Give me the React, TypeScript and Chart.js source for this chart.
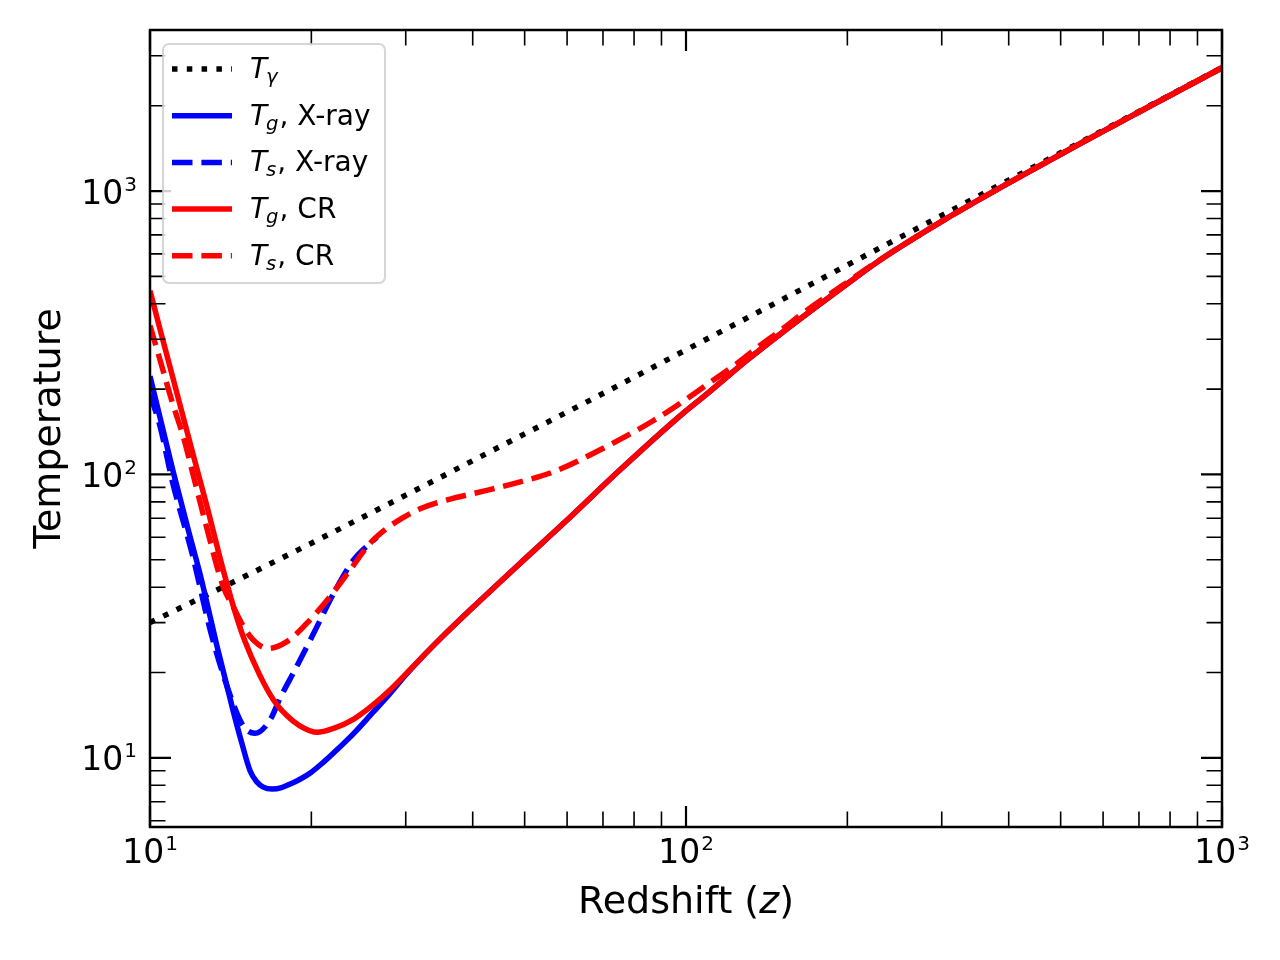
import { useEffect, useRef } from 'react';
import Chart from 'chart.js/auto';

// redshift (z) / temperature pairs, one pair of arrays per curve
const zGamma = [10, 15, 20, 30, 50, 70, 100, 150, 200, 300, 500, 700, 1000];
const tGamma = [30.0, 43.6, 57.2, 84.5, 139, 193, 275, 411, 548, 820, 1365, 1910, 2728];

const zGasX = [10, 10.5, 11.05, 11.9, 12.4, 12.85, 13.3, 14.3, 14.83, 15.37, 15.8, 16.27, 16.9, 17.6, 18.3, 19.05, 20, 21, 22, 24, 26, 28, 30, 32, 35, 40, 49, 60, 75, 97.5, 110, 130, 150, 173, 200, 230, 306, 408, 543, 700, 1000];
const tGasX = [222, 152, 102, 59.5, 44.5, 33.5, 25.3, 14.6, 11.3, 9.0, 8.25, 7.88, 7.76, 7.85, 8.1, 8.4, 8.9, 9.6, 10.4, 12.2, 14.4, 16.8, 19.6, 22.4, 26.6, 33.9, 48.5, 69, 103, 161, 194, 253, 313, 384, 471, 570, 799, 1090, 1468, 1900, 2722];

const zSpinX = [10, 10.45, 11, 12, 13, 14.3, 14.95, 15.7, 16.75, 17.5, 18.5, 20.2, 22, 24, 25.7, 26.5];
const tSpinX = [192, 147, 95, 52, 27.5, 15.5, 12.9, 12.2, 13.6, 16.3, 19.9, 27.5, 38.0, 50, 57.0, 60];

const zGasCR = [10, 10.5, 11, 12, 12.8, 13.5, 14, 14.5, 15, 16, 17, 18, 19, 20.5, 22, 24, 26, 28, 32, 35, 40, 49, 60, 75, 97.5, 110, 130, 150, 173, 200, 230, 306, 408, 543, 700, 1000];
const tGasCR = [445, 312, 224, 120, 76, 51, 39.5, 31.5, 26.1, 19.7, 16.0, 14.1, 13.0, 12.3, 12.7, 13.7, 15.3, 17.3, 22.4, 26.6, 33.9, 48.5, 69, 103, 161, 194, 253, 313, 384, 471, 570, 799, 1090, 1468, 1900, 2722];

const zSpinCR = [10, 10.45, 11, 11.55, 12, 12.75, 13.7, 14.3, 14.95, 15.6, 16.6, 18, 19.6, 21.4, 23.6, 25.7, 27.5, 29.5, 32, 36, 42.5, 50, 56.5, 70, 87, 100, 112, 124, 137, 152, 165, 183, 200, 230, 306, 408, 543, 700, 1000];
const tSpinCR = [335, 252, 180, 135, 102, 65.2, 40.1, 34.1, 29.0, 26.0, 24.3, 25.7, 29.8, 36.0, 45.9, 57.0, 64, 70, 75.8, 81.5, 87.8, 95, 102, 123.5, 155, 184, 214, 245, 284, 328, 370, 425, 477, 572, 799, 1090, 1468, 1900, 2722];

const xMajor = [10, 100, 1000];
const yMajor = [10, 100, 1000];
const legendSubs = ['\u03b3', 'g', 's', 'g', 's'];
const legendRest = ['', ', X-ray', ', X-ray', ', CR', ', CR'];

const FONT = '"DejaVu Sans", sans-serif';
const DOTS = [5.5, 9.3];
const DASH = [20.5, 8.9];

const pts = (zs: number[], ts: number[]) => zs.map((z, i) => ({ x: z, y: ts[i] }));

const minorsBetween = (lo: number, hi: number) => {
  const out: number[] = [];
  for (let d = 1; d <= 1000; d *= 10) {
    for (let m = 2; m <= 9; m++) {
      const v = m * d;
      if (v > lo && v < hi) out.push(v);
    }
  }
  return out;
};

// "10" with a raised exponent, like matplotlib mathtext
function powerLabel(ctx: CanvasRenderingContext2D, exp: string, x: number, baseline: number, align: 'center' | 'right') {
  ctx.font = `33px ${FONT}`;
  const w1 = ctx.measureText('10').width;
  ctx.font = `20px ${FONT}`;
  const w2 = ctx.measureText(exp).width;
  const total = w1 + w2 + 1;
  const x0 = align === 'center' ? x - total / 2 : x - total;
  ctx.textAlign = 'left';
  ctx.font = `33px ${FONT}`;
  ctx.fillText('10', x0, baseline);
  ctx.font = `20px ${FONT}`;
  ctx.fillText(exp, x0 + w1 + 1, baseline - 13);
}

const framePlugin = {
  id: 'mplFrame',
  afterDatasetsDraw(chart: any) {
    const { ctx, chartArea: a, scales } = chart;
    const xs = scales.x;
    const ys = scales.y;
    ctx.save();
    ctx.strokeStyle = '#000';
    ctx.fillStyle = '#000';
    ctx.setLineDash([]);
    ctx.lineCap = 'butt';

    // inward ticks on all four sides
    const xTicks = (vals: number[], len: number, width: number) =>
      vals.forEach((v) => {
        const px = xs.getPixelForValue(v);
        ctx.lineWidth = width;
        ctx.beginPath();
        ctx.moveTo(px, a.bottom);
        ctx.lineTo(px, a.bottom - len);
        ctx.moveTo(px, a.top);
        ctx.lineTo(px, a.top + len);
        ctx.stroke();
      });
    const yTicks = (vals: number[], len: number, width: number) =>
      vals.forEach((v) => {
        const py = ys.getPixelForValue(v);
        ctx.lineWidth = width;
        ctx.beginPath();
        ctx.moveTo(a.left, py);
        ctx.lineTo(a.left + len, py);
        ctx.moveTo(a.right, py);
        ctx.lineTo(a.right - len, py);
        ctx.stroke();
      });

    xTicks(minorsBetween(xs.min, xs.max), 15.5, 1.6);
    xTicks(xMajor, 21, 2.2);
    yTicks(minorsBetween(ys.min, ys.max), 15.5, 1.6);
    yTicks(yMajor, 21, 2.2);

    ctx.lineWidth = 2.5;
    ctx.strokeRect(a.left, a.top, a.right - a.left, a.bottom - a.top);

    // tick labels
    xMajor.forEach((v) => {
      powerLabel(ctx, String(Math.round(Math.log10(v))), xs.getPixelForValue(v), a.bottom + 36, 'center');
    });
    yMajor.forEach((v) => {
      powerLabel(ctx, String(Math.round(Math.log10(v))), a.left - 13, ys.getPixelForValue(v) + 12.5, 'right');
    });

    // axis titles
    ctx.textAlign = 'left';
    ctx.font = `38px ${FONT}`;
    const p1 = 'Redshift (';
    const w1 = ctx.measureText(p1).width;
    const w3 = ctx.measureText(')').width;
    ctx.font = `italic 38px ${FONT}`;
    const w2 = ctx.measureText('z').width;
    let tx = (a.left + a.right) / 2 - (w1 + w2 + w3) / 2;
    const tb = a.bottom + 86;
    ctx.font = `38px ${FONT}`;
    ctx.fillText(p1, tx, tb);
    tx += w1;
    ctx.font = `italic 38px ${FONT}`;
    ctx.fillText('z', tx, tb);
    tx += w2;
    ctx.font = `38px ${FONT}`;
    ctx.fillText(')', tx, tb);

    ctx.save();
    ctx.translate(60, (a.top + a.bottom) / 2);
    ctx.rotate(-Math.PI / 2);
    ctx.textAlign = 'center';
    ctx.fillText('Temperature', 0, 0);
    ctx.restore();

    ctx.restore();
  },
};

const legendPlugin = {
  id: 'mplLegend',
  afterDatasetsDraw(chart: any) {
    const { ctx } = chart;
    const bx = 163, by = 44, bw = 222, bh = 239, r = 6;
    ctx.save();
    ctx.beginPath();
    ctx.roundRect(bx, by, bw, bh, r);
    ctx.fillStyle = 'rgba(255,255,255,0.8)';
    ctx.fill();
    ctx.lineWidth = 2;
    ctx.strokeStyle = 'rgba(204,204,204,0.8)';
    ctx.stroke();

    chart.data.datasets.forEach((ds: any, i: number) => {
      const rowY = 69 + i * 46.7;
      ctx.strokeStyle = ds.borderColor;
      ctx.lineWidth = ds.borderWidth;
      ctx.setLineDash(ds.borderDash || []);
      ctx.lineCap = 'butt';
      ctx.beginPath();
      ctx.moveTo(172, rowY);
      ctx.lineTo(232, rowY);
      ctx.stroke();
      ctx.setLineDash([]);

      const base = rowY + 9;
      let x = 250;
      ctx.fillStyle = '#000';
      ctx.textAlign = 'left';
      ctx.font = `italic 28px ${FONT}`;
      ctx.fillText('T', x, base);
      x += ctx.measureText('T').width - 1;
      ctx.font = `italic 19.6px ${FONT}`;
      ctx.fillText(legendSubs[i], x, base + 5);
      x += ctx.measureText(legendSubs[i]).width + 1;
      ctx.font = `28px ${FONT}`;
      ctx.fillText(legendRest[i], x, base);
    });
    ctx.restore();
  },
};

export default function App() {
  const canvasRef = useRef<HTMLCanvasElement>(null);
  const chartRef = useRef<Chart | null>(null);

  useEffect(() => {
    if (!canvasRef.current) return;
    if (chartRef.current) chartRef.current.destroy();

    const line = (label: string, data: any[], color: string, dash: number[], order: number) => ({
      label,
      data,
      borderColor: color,
      backgroundColor: color,
      borderWidth: 5.5,
      borderDash: dash,
      borderCapStyle: 'butt' as const,
      borderJoinStyle: 'round' as const,
      cubicInterpolationMode: 'monotone' as const,
      pointRadius: 0,
      fill: false,
      order,
    });

    chartRef.current = new Chart(canvasRef.current, {
      type: 'line',
      data: {
        datasets: [
          line('T_gamma', pts(zGamma, tGamma), '#000000', DOTS, 5),
          line('T_g, X-ray', pts(zGasX, tGasX), '#0000ff', [], 4),
          line('T_s, X-ray', pts(zSpinX, tSpinX), '#0000ff', DASH, 3),
          line('T_g, CR', pts(zGasCR, tGasCR), '#ff0000', [], 2),
          line('T_s, CR', pts(zSpinCR, tSpinCR), '#ff0000', DASH, 1),
        ],
      },
      options: {
        animation: false,
        responsive: false,
        layout: { padding: { left: 150, top: 30, right: 58, bottom: 133 } },
        plugins: { legend: { display: false }, tooltip: { enabled: false } },
        scales: {
          x: { type: 'logarithmic', min: 10, max: 1000, display: false },
          y: { type: 'logarithmic', min: 5.7, max: 3700, display: false },
        },
      },
      plugins: [framePlugin, legendPlugin],
    });

    return () => {
      if (chartRef.current) {
        chartRef.current.destroy();
        chartRef.current = null;
      }
    };
  }, []);

  return (
    <div style={{ position: 'absolute', left: 0, top: 0, width: 1280, height: 960, background: '#fff' }}>
      <canvas ref={canvasRef} width={1280} height={960} style={{ width: 1280, height: 960 }} />
    </div>
  );
}
